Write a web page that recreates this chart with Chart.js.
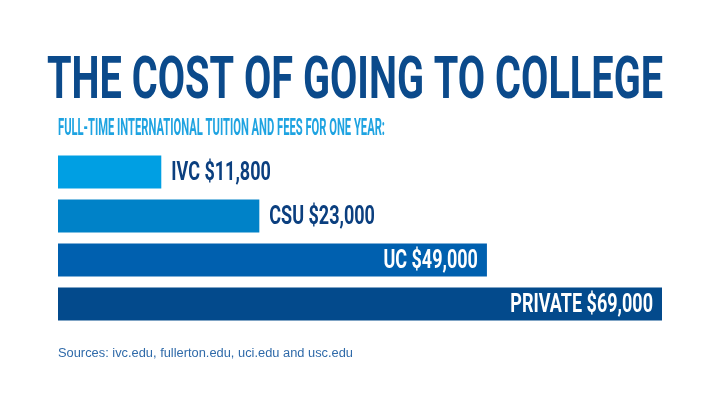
<!DOCTYPE html>
<html>
<head>
<meta charset="utf-8">
<script src="https://cdn.jsdelivr.net/npm/chart.js@4.4.0/dist/chart.umd.min.js"></script>
<style>
  html, body { margin: 0; padding: 0; background: #fff; }
  #wrap { position: relative; width: 718px; height: 396px; }
</style>
</head>
<body>
<div id="wrap"><canvas id="costChart"></canvas></div>
<script>
const schools = ['IVC', 'CSU', 'UC', 'PRIVATE'];
const tuition = [11800, 23000, 49000, 69000];
const barColors = ['#009fe3', '#0082c8', '#0060af', '#034a8c'];

const titleText = 'THE COST OF GOING TO COLLEGE';
const subtitleText = 'FULL-TIME INTERNATIONAL TUITION AND FEES FOR ONE YEAR:';
const sourceText = 'Sources: ivc.edu, fullerton.edu, uci.edu and usc.edu';

const money = (v) => '$' + v.toLocaleString('en-US');

// draw text squeezed horizontally to look like a condensed face
const drawNarrow = (ctx, text, x, y, opts) => {
  ctx.save();
  ctx.font = opts.font;
  ctx.fillStyle = opts.color;
  ctx.textBaseline = 'alphabetic';
  ctx.textAlign = 'left';
  const w = ctx.measureText(text).width;
  const sx = opts.width ? opts.width / w : opts.scale;
  const left = opts.align === 'right' ? x - w * sx : x;
  ctx.translate(left, y);
  ctx.scale(sx, 1);
  ctx.fillText(text, 0, 0);
  ctx.restore();
};

// heading, subheading and source line
const headings = {
  id: 'headings',
  afterDraw(chart) {
    const ctx = chart.ctx;
    drawNarrow(ctx, titleText, 47, 98, { font: 'bold 60px Roboto', color: '#0b4a8b', width: 616 });
    drawNarrow(ctx, subtitleText, 58, 135, { font: 'bold 23px Roboto', color: '#1ea3e1', width: 327 });
    drawNarrow(ctx, sourceText, 58, 357, { font: '12.5px "Liberation Sans"', color: '#2f6aa9', width: 295 });
  },
};

// value labels: inside long bars, after short ones
const barLabels = {
  id: 'barLabels',
  afterDatasetsDraw(chart) {
    const ctx = chart.ctx;
    const half = (chart.chartArea.left + chart.chartArea.right) / 2;
    chart.getDatasetMeta(0).data.forEach((bar, i) => {
      const text = schools[i] + ' ' + money(tuition[i]);
      const inside = bar.x > half;
      drawNarrow(ctx, text, inside ? bar.x - 9 : bar.x + 10, bar.y + 8, {
        font: 'bold 25px Roboto',
        color: inside ? '#ffffff' : '#0b3f7f',
        scale: 0.72,
        align: inside ? 'right' : 'left',
      });
    });
  },
};

new Chart(document.getElementById('costChart'), {
  type: 'bar',
  data: {
    labels: schools,
    datasets: [
      {
        data: tuition,
        backgroundColor: barColors,
        borderWidth: 0,
        barPercentage: 0.75,
        categoryPercentage: 1,
      },
    ],
  },
  options: {
    indexAxis: 'y',
    responsive: true,
    maintainAspectRatio: false,
    animation: false,
    layout: {
      padding: { left: 58, right: 56, top: 150, bottom: 70 },
    },
    scales: {
      x: { display: false, min: 0, max: 69000 },
      y: { display: false },
    },
    plugins: {
      legend: { display: false },
      tooltip: { enabled: false },
    },
  },
  plugins: [headings, barLabels],
});
</script>
</body>
</html>
